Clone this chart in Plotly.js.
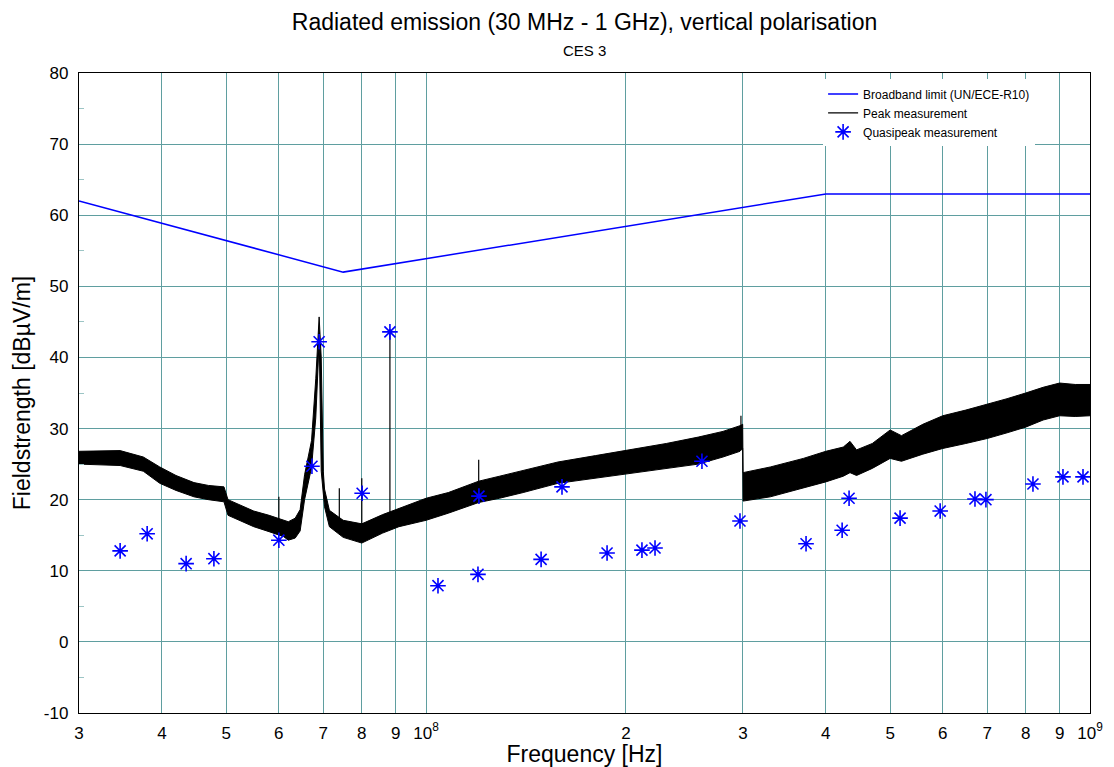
<!DOCTYPE html>
<html>
<head>
<meta charset="utf-8">
<script src="https://cdn.plot.ly/plotly-3.0.1.min.js"></script>
<style>html,body{margin:0;padding:0;background:#fff;}#chart{width:1114px;height:767px;}</style>
</head>
<body>
<div id="chart"></div>
<script>
// Broadband limit (UN/ECE-R10), frequency in MHz, level in dBµV/m
const limitFreqMHz = [30, 75, 400, 1000];
const limitLevel   = [62, 52, 63, 63];

const peakFreqMHz = [30, 34.6, 37.5, 39.7, 42, 44.7, 47, 49.6, 50.3, 55, 58, 61, 62, 63.5, 64.6, 65.6, 67.2, 68.2, 68.8, 69.0, 69.5, 70.0, 70.3, 71.5, 75, 80, 86, 91, 100, 108, 120, 129, 140, 158, 180, 200, 230, 257, 280, 297, 299.8, 300.2, 330, 370, 400, 425, 435, 445, 470, 500, 520, 560, 600, 650, 700, 750, 800, 850, 900, 950, 1000];
const peakLower   = [25.0, 24.8, 24.0, 22.3, 21.3, 20.4, 20.0, 19.7, 17.8, 16.2, 15.5, 14.8, 14.3, 14.6, 15.6, 20.0, 24.5, 31.5, 39.5, 43.5, 24.0, 20.5, 19.0, 16.2, 14.7, 13.9, 15.3, 16.2, 17.1, 18.1, 19.6, 20.2, 21.0, 22.3, 23.0, 23.6, 24.3, 25.0, 26.0, 26.8, 27.2, 19.8, 20.4, 21.6, 22.5, 23.3, 23.8, 23.4, 24.4, 25.8, 25.4, 26.4, 27.2, 27.9, 28.6, 29.4, 30.2, 31.2, 31.8, 31.7, 31.8];
const peakUpper   = [26.8, 26.9, 26.0, 24.6, 23.4, 22.4, 22.0, 21.8, 20.0, 18.4, 17.8, 17.2, 16.9, 17.4, 18.6, 23.5, 28.3, 37.0, 44.0, 45.7, 40.0, 24.0, 21.5, 18.5, 17.1, 16.6, 17.9, 18.8, 20.2, 21.0, 22.6, 23.3, 24.1, 25.3, 26.2, 26.9, 27.9, 28.8, 29.6, 30.4, 30.6, 23.8, 24.6, 25.8, 26.8, 27.4, 28.2, 27.0, 27.9, 29.8, 29.0, 30.6, 31.8, 32.6, 33.4, 34.2, 35.0, 35.8, 36.4, 36.2, 36.2];

// Narrow spikes of the peak trace: frequency, base level, top level
const spikeFreqMHz = [60, 74, 80, 88.2, 120, 298];
const spikeBase    = [15.5, 16.0, 15.0, 17.0, 22.0, 29.0];
const spikeTop     = [20.4, 21.6, 23.0, 44.0, 25.6, 31.8];

// Quasipeak measurement points
const qpFreqMHz = [34.6, 38.0, 43.5, 47.9, 60.0, 67.3, 69.0, 80.1, 88.2, 104.2, 119.7, 120.1, 149, 160.2, 187.3, 211.4, 221.2, 260.3, 297, 373.5, 423.3, 433.6, 517.5, 594.7, 671, 697, 820.5, 910.5, 976];
const qpLevel   = [12.8, 15.2, 11.0, 11.7, 14.3, 24.7, 42.2, 20.9, 43.6, 7.9, 9.5, 20.5, 11.6, 21.8, 12.5, 12.9, 13.2, 25.4, 17.0, 13.8, 15.7, 20.2, 17.4, 18.4, 20.1, 20.0, 22.2, 23.2, 23.2];

// Axis tick labels
const xTickValsMHz = [30, 40, 50, 60, 70, 80, 90, 100, 200, 300, 400, 500, 600, 700, 800, 900, 1000];
const xTickText = ["3", "4", "5", "6", "7", "8", "9", "10<sup>8</sup>", "2", "3", "4", "5", "6", "7", "8", "9", "10<sup>9</sup>"];
const yTickVals = [-10, 0, 10, 20, 30, 40, 50, 60, 70, 80];
const yTickText = ["-10", "0", "10", "20", "30", "40", "50", "60", "70", "80"];

const toHz = a => a.map(v => v * 1e6);

const spikeX = [], spikeY = [];
spikeFreqMHz.forEach((f, i) => {
  spikeX.push(f * 1e6, f * 1e6, null);
  spikeY.push(spikeBase[i], spikeTop[i], null);
});

const FONT = "Liberation Sans, Arial, Helvetica, sans-serif";
const GRID = "#5f9ea0";

const traces = [
  { x: toHz(peakFreqMHz), y: peakLower, type: "scatter", mode: "lines",
    line: { color: "#000", width: 1 }, showlegend: false, hoverinfo: "skip" },
  { x: toHz(peakFreqMHz), y: peakUpper, type: "scatter", mode: "lines",
    line: { color: "#000", width: 1 }, fill: "tonexty", fillcolor: "#000",
    showlegend: false, hoverinfo: "skip" },
  { x: toHz(limitFreqMHz), y: limitLevel, type: "scatter", mode: "lines",
    name: "Broadband limit (UN/ECE-R10)", line: { color: "#0000ff", width: 1.5 } },
  { x: spikeX, y: spikeY, type: "scatter", mode: "lines",
    name: "Peak measurement", line: { color: "#000", width: 1.2 }, connectgaps: false },
  { x: toHz(qpFreqMHz), y: qpLevel, type: "scatter", mode: "markers",
    name: "Quasipeak measurement",
    marker: { symbol: "asterisk-open", size: 13, color: "#0000ff", line: { color: "#0000ff", width: 1.6 } } }
];

const layout = {
  width: 1114, height: 767,
  margin: { l: 79, r: 24, t: 73, b: 54 },
  paper_bgcolor: "#fff", plot_bgcolor: "#fff",
  font: { family: FONT, color: "#000" },
  title: { text: "Radiated emission (30 MHz - 1 GHz), vertical polarisation",
    font: { family: FONT, size: 23, color: "#000" },
    x: 0.5, xref: "paper", xanchor: "center", y: 1 - 22 / 767, yref: "container", yanchor: "middle" },
  annotations: [{ text: "CES 3", xref: "paper", yref: "paper", x: 0.5, y: 1 + 23 / 640,
    xanchor: "center", yanchor: "middle", showarrow: false, font: { family: FONT, size: 15, color: "#000" } }],
  xaxis: {
    type: "log", range: [Math.log10(3e7), 9],
    tickmode: "array", tickvals: toHz(xTickValsMHz), ticktext: xTickText,
    showgrid: true, gridcolor: GRID, gridwidth: 1,
    ticks: "inside", ticklen: 6, tickcolor: GRID,
    showline: true, linecolor: "#000", linewidth: 1.2, mirror: true,
    zeroline: false,
    tickfont: { family: FONT, size: 17, color: "#000" },
    ticklabelstandoff: 4,
    title: { text: "Frequency [Hz]", font: { family: FONT, size: 23, color: "#000" }, standoff: 8 }
  },
  yaxis: {
    range: [-10, 80], tickmode: "array", tickvals: yTickVals, ticktext: yTickText,
    showgrid: true, gridcolor: GRID, gridwidth: 1,
    ticks: "inside", ticklen: 6, tickcolor: GRID,
    minor: { dtick: 5, ticks: "inside", ticklen: 5, tickcolor: "#9cc5c5", showgrid: false },
    showline: true, linecolor: "#000", linewidth: 1.2, mirror: true,
    zeroline: false,
    tickfont: { family: FONT, size: 17, color: "#000" },
    ticklabelstandoff: 6,
    title: { text: "Fieldstrength [dBµV/m]", font: { family: FONT, size: 23, color: "#000" }, standoff: 6 }
  },
  legend: {
    x: 0.736, y: 0.99, xanchor: "left", yanchor: "top",
    bgcolor: "#fff", borderwidth: 0, traceorder: "normal",
    font: { family: FONT, size: 12, color: "#000" },
    tracegroupgap: 0, itemwidth: 30
  },
  showlegend: true
};

Plotly.newPlot("chart", traces, layout, { displayModeBar: false, staticPlot: true });
</script>
</body>
</html>
